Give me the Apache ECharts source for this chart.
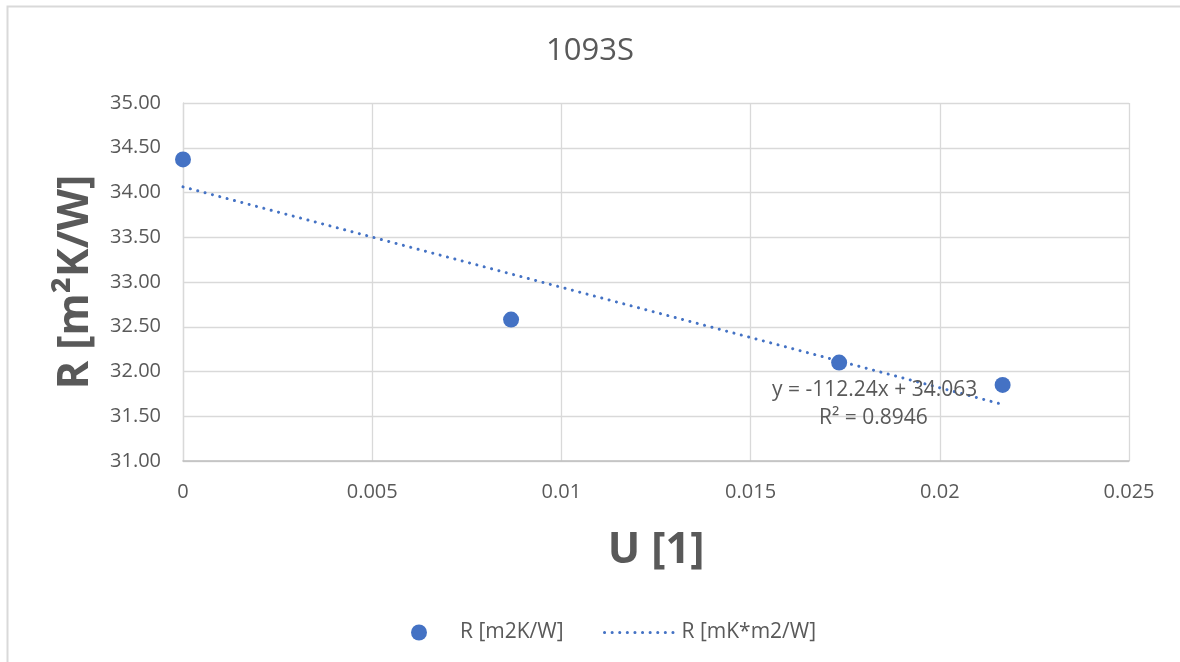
<!DOCTYPE html>
<html>
<head>
<meta charset="utf-8">
<script src="https://cdn.jsdelivr.net/npm/echarts@6/dist/echarts.min.js"></script>
<style>
html,body{margin:0;padding:0;background:#fff;}
#c{width:1180px;height:662px;}
</style>
</head>
<body>
<div id="c"></div>
<script>
// Data
var uValues = [0, 0.00867, 0.01734, 0.02166];
var rValues = [34.37, 32.58, 32.10, 31.85];
var trendU = [0, 0.02166];
var trendR = [34.063, 31.632];
var trendEquation = 'y = -112.24x + 34.063';
var trendR2 = 'R² = 0.8946';
var yTicks = [31, 31.5, 32, 32.5, 33, 33.5, 34, 34.5, 35];
var xTicks = [0, 0.005, 0.01, 0.015, 0.02, 0.025];
var titleText = '1093S';
var xName = 'U [1]';
var yName = 'R [m²K/W]';
var seriesNames = ['R [m2K/W]', 'R [mK*m2/W]'];

var FONT = '"Open Sans", "Noto Sans", sans-serif';
var TXT = '#595959';
var BLUE = '#4472C4';

var chart = echarts.init(document.getElementById('c'), null, {renderer: 'canvas'});
chart.setOption({
  animation: false,
  backgroundColor: '#fff',
  title: {
    text: titleText, left: 'center', top: 31,
    textStyle: {fontFamily: FONT, fontSize: 31, fontWeight: 'normal', color: TXT}
  },
  grid: {left: 183, right: 51, top: 103, bottom: 201, containLabel: false},
  xAxis: {
    type: 'value', min: 0, max: 0.025, interval: 0.005,
    name: xName, nameLocation: 'middle', nameGap: 68,
    nameTextStyle: {fontFamily: FONT, fontSize: 43, fontWeight: 'bold', color: TXT},
    axisLine: {show: true, lineStyle: {color: '#bfbfbf', width: 1.5}},
    axisTick: {show: false},
    splitLine: {show: true, lineStyle: {color: '#d9d9d9', width: 1.3}},
    axisLabel: {
      fontFamily: FONT, fontSize: 20, color: TXT, margin: 21,
      formatter: function (v) { var i = xTicks.findIndex(function (t) { return Math.abs(t - v) < 1e-9; }); return i >= 0 ? String(xTicks[i]) : ''; }
    }
  },
  yAxis: {
    type: 'value', min: 31, max: 35, interval: 0.5,
    name: yName, nameLocation: 'middle', nameGap: 86, nameRotate: 90,
    nameTextStyle: {fontFamily: FONT, fontSize: 43, fontWeight: 'bold', color: TXT},
    axisLine: {show: true, lineStyle: {color: '#d9d9d9', width: 1.3}},
    axisTick: {show: false},
    splitLine: {show: true, lineStyle: {color: '#d9d9d9', width: 1.3}},
    axisLabel: {
      fontFamily: FONT, fontSize: 20, color: TXT, margin: 22,
      formatter: function (v) { return v.toFixed(2); }
    }
  },
  legend: [{
    data: [{name: seriesNames[0], icon: 'circle'}],
    left: 406, top: 617, itemWidth: 16, itemHeight: 16,
    textStyle: {fontFamily: FONT, fontSize: 21, color: TXT, padding: [0, 0, 0, 28]}
  }, {
    data: [{name: seriesNames[1]}],
    left: 598, top: 617, itemWidth: 70, itemHeight: 16,
    itemStyle: {opacity: 0},
    lineStyle: {color: BLUE, width: 3, type: [0.1, 7.5], cap: 'round'},
    textStyle: {fontFamily: FONT, fontSize: 21, color: TXT, padding: [0, 0, 0, 2]}
  }],
  series: [{
    name: seriesNames[0], type: 'scatter', symbol: 'circle', symbolSize: 16,
    itemStyle: {color: BLUE, opacity: 1},
    data: uValues.map(function (u, i) { return [u, rValues[i]]; }),
    z: 3
  }, {
    name: seriesNames[1], type: 'line', symbol: 'none', showSymbol: false,
    lineStyle: {color: BLUE, width: 3, type: [0.1, 7.5], cap: 'round'},
    itemStyle: {color: BLUE},
    data: trendU.map(function (u, i) { return [u, trendR[i]]; }),
    z: 2
  }],
  graphic: [{
    type: 'rect', left: 5, top: 4, shape: {width: 1190, height: 670},
    style: {fill: 'none', stroke: '#d9d9d9', lineWidth: 2}, silent: true, z: 0
  }, {
    type: 'text', left: 772, top: 380,
    style: {text: trendEquation, fontFamily: FONT, fontSize: 21, fill: TXT}, z: 10
  }, {
    type: 'text', left: 819, top: 408,
    style: {text: trendR2, fontFamily: FONT, fontSize: 21, fill: TXT}, z: 10
  }]
});
</script>
</body>
</html>
